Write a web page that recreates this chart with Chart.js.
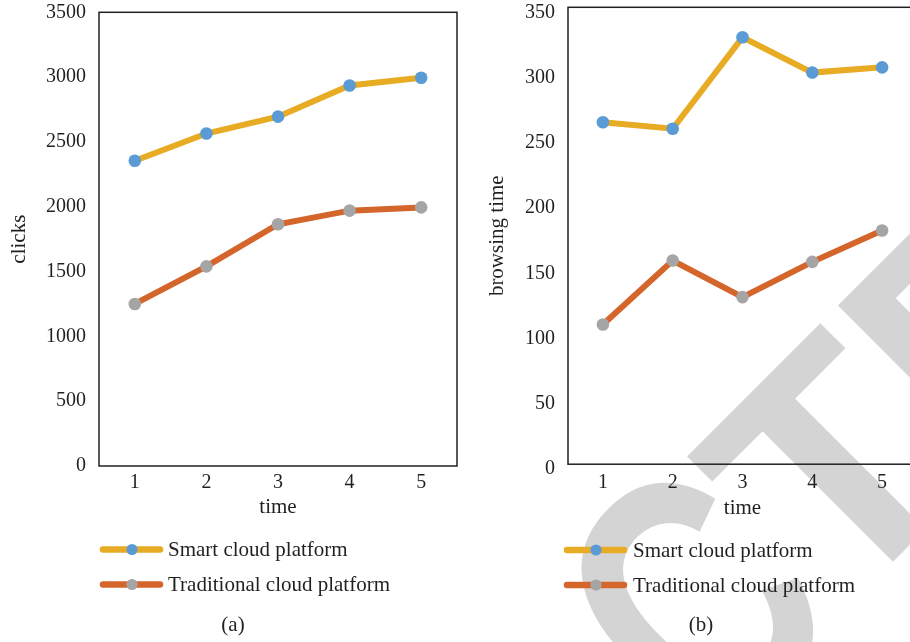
<!DOCTYPE html>
<html>
<head>
<meta charset="utf-8">
<script src="https://cdn.jsdelivr.net/npm/chart.js@4/dist/chart.umd.min.js"></script>
<style>
  html, body { margin: 0; padding: 0; background: #ffffff; overflow: hidden; }
  #wrap { position: relative; width: 910px; height: 642px; overflow: hidden; background: #ffffff; }
  #ca { position: absolute; left: 0; top: 0; }
  #cb { position: absolute; left: 460px; top: 0; }
</style>
</head>
<body>
<div id="wrap">
  <canvas id="ca" width="460" height="642"></canvas>
  <canvas id="cb" width="460" height="642"></canvas>
</div>
<script>
// ---- data ----
const categories = ['1', '2', '3', '4', '5'];
const seriesNames = ['Smart cloud platform', 'Traditional cloud platform'];
const clicksSmart = [2355, 2565, 2695, 2935, 2995];
const clicksTraditional = [1250, 1540, 1865, 1970, 1995];
const browseSmart = [262, 257, 327, 300, 304];
const browseTraditional = [107, 156, 128, 155, 179];
const clicksTicks = { min: 0, max: 3500, step: 500 };
const browseTicks = { min: 0, max: 350, step: 50 };
const captions = ['(a)', '(b)'];
const axisTitles = { x: 'time', yA: 'clicks', yB: 'browsing time' };

// ---- styles ----
const TEXT = '#231f20';
const SERIF = '"Liberation Serif", "Times New Roman", serif';
const YELLOW = '#e8ab24';
const BLUE = '#5b9bd5';
const ORANGE = '#d4652b';
const GREY = '#a5a5a5';

function makeDatasets(a, b) {
  return [
    { label: seriesNames[0], data: a, borderColor: YELLOW, backgroundColor: YELLOW,
      pointBackgroundColor: BLUE, pointBorderWidth: 0, pointRadius: 6.3, borderWidth: 6, tension: 0 },
    { label: seriesNames[1], data: b, borderColor: ORANGE, backgroundColor: ORANGE,
      pointBackgroundColor: GREY, pointBorderWidth: 0, pointRadius: 6.3, borderWidth: 6, tension: 0 }
  ];
}

const framePlugin = {
  id: 'frame',
  beforeDatasetsDraw(chart) {
    const { ctx, chartArea: a } = chart;
    ctx.save();
    ctx.strokeStyle = TEXT;
    ctx.lineWidth = 1.5;
    ctx.strokeRect(a.left, a.top, a.right - a.left, a.bottom - a.top);
    ctx.restore();
  }
};

const legendPlugin = {
  id: 'customLegend',
  afterDraw(chart, args, opts) {
    const ctx = chart.ctx;
    ctx.save();
    chart.data.datasets.forEach((ds, i) => {
      const y = opts.ys[i];
      ctx.strokeStyle = ds.borderColor;
      ctx.lineWidth = 6.5;
      ctx.lineCap = 'round';
      ctx.beginPath();
      ctx.moveTo(opts.x1, y);
      ctx.lineTo(opts.x2, y);
      ctx.stroke();
      ctx.fillStyle = ds.pointBackgroundColor;
      ctx.beginPath();
      ctx.arc(opts.xm, y, 5.6, 0, Math.PI * 2);
      ctx.fill();
      ctx.fillStyle = TEXT;
      ctx.font = '21px ' + SERIF;
      ctx.textAlign = 'left';
      ctx.textBaseline = 'middle';
      ctx.fillText(ds.label, opts.xt, y + 1);
    });
    ctx.font = '21px ' + SERIF;
    ctx.textAlign = 'center';
    ctx.textBaseline = 'middle';
    ctx.fillStyle = TEXT;
    ctx.fillText(opts.caption, opts.cx, opts.cy);
    ctx.restore();
  }
};

// faint "RETRACTED" stamp behind panel (b), in rotated coordinates (u along the baseline, v across it).
// The letter before the anchor (C) is drawn with its own scale, ending at cEndU; the rest from tU.
const watermarkPlugin = {
  id: 'watermark',
  beforeDraw(chart, args, opts) {
    if (!opts || !opts.text) return;
    const ctx = chart.ctx;
    const head = opts.text.slice(0, opts.anchorIndex - 1);
    const cLetter = opts.text.charAt(opts.anchorIndex - 1);
    const tail = opts.text.slice(opts.anchorIndex);
    ctx.save();
    ctx.translate(-opts.canvasLeft, 0);
    ctx.rotate(-Math.PI / 4);
    ctx.font = 'bold 320px "Liberation Sans", Arial, sans-serif';
    ctx.fillStyle = '#d4d4d4';
    ctx.textBaseline = 'alphabetic';
    ctx.textAlign = 'left';
    ctx.fillText(tail, opts.tU, opts.baseV);
    const cw = ctx.measureText(cLetter).width * opts.cScaleU;
    ctx.save();
    ctx.translate(opts.cEndU, opts.cBaseV);
    ctx.scale(opts.cScaleU, opts.cScaleV);
    ctx.textAlign = 'right';
    ctx.fillText(cLetter, 0, 0);
    ctx.restore();
    ctx.textAlign = 'right';
    ctx.fillText(head, opts.cEndU - cw, opts.baseV);
    ctx.restore();
  }
};

function makeChart(id, cfg) {
  return new Chart(document.getElementById(id), {
    type: 'line',
    data: { labels: categories, datasets: makeDatasets(cfg.s1, cfg.s2) },
    plugins: [watermarkPlugin, framePlugin, legendPlugin],
    options: {
      responsive: false,
      animation: false,
      layout: { padding: cfg.padding, autoPadding: false },
      plugins: {
        legend: { display: false },
        tooltip: { enabled: false },
        title: { display: false },
        customLegend: cfg.legend,
        watermark: cfg.watermark || {}
      },
      scales: {
        x: {
          offset: true,
          grid: { display: false, drawTicks: false },
          border: { display: false },
          ticks: { color: TEXT, font: { family: SERIF, size: 20 }, padding: cfg.xTickPad, maxRotation: 0 },
          title: { display: true, text: axisTitles.x, color: TEXT, font: { family: SERIF, size: 21 }, padding: { top: 0, bottom: 0 } },
          afterFit(s) { s.height = cfg.xHeight; s.paddingLeft = 0; s.paddingRight = 0; }
        },
        y: {
          min: cfg.ticks.min, max: cfg.ticks.max,
          grid: { display: false, drawTicks: false },
          border: { display: false },
          ticks: { stepSize: cfg.ticks.step, color: TEXT, font: { family: SERIF, size: 20 }, padding: 13,
                   labelOffset: cfg.yLabelOffset, callback: (v) => String(v) },
          title: { display: true, text: cfg.yTitle, color: TEXT, font: { family: SERIF, size: 21 }, padding: { top: cfg.yTitlePad, bottom: 0 } },
          afterFit(s) { s.width = cfg.yWidth; s.paddingTop = 0; s.paddingBottom = 0; }
        }
      }
    }
  });
}

makeChart('ca', {
  s1: clicksSmart, s2: clicksTraditional, ticks: clicksTicks, yTitle: axisTitles.yA,
  padding: { left: 0, right: 3, top: 12.3, bottom: 122 },
  xHeight: 54, xTickPad: 5, yWidth: 99, yTitlePad: 6.5, yLabelOffset: 0,
  legend: { x1: 103, x2: 160, xm: 132, xt: 168, ys: [549.5, 584.5], caption: captions[0], cx: 233, cy: 625 }
});

makeChart('cb', {
  s1: browseSmart, s2: browseTraditional, ticks: browseTicks, yTitle: axisTitles.yB,
  padding: { left: 0, right: 3, top: 7.3, bottom: 120.5 },
  xHeight: 57.3, xTickPad: 7, yWidth: 108, yTitlePad: 25, yLabelOffset: 5,
  legend: { x1: 107, x2: 164, xm: 136, xt: 173, ys: [550, 585], caption: captions[1], cx: 241, cy: 625 },
  watermark: { text: 'RETRACTED', anchorIndex: 6, tU: 159.5, baseV: 1028.7, cEndU: 163, cBaseV: 1040, cScaleU: 0.85, cScaleV: 1.12, canvasLeft: 460 }
});
</script>
</body>
</html>
